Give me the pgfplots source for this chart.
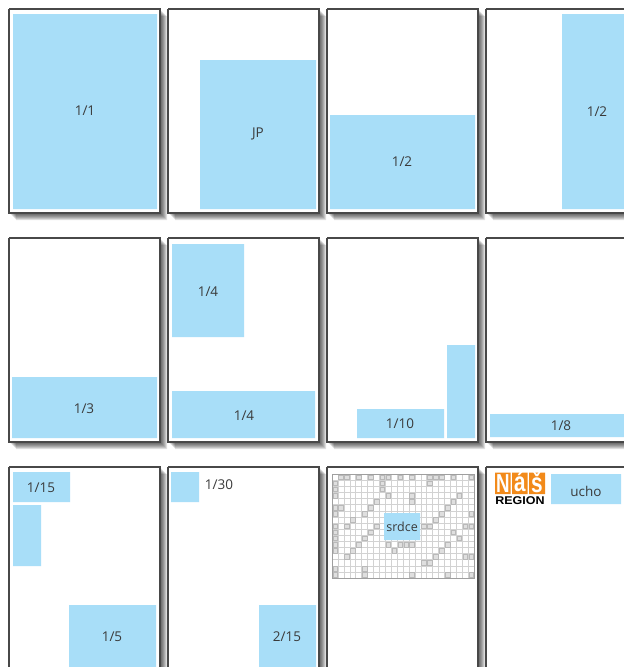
\documentclass[border=0pt]{standalone}
\usepackage{pgfplots}
\pgfplotsset{compat=1.18}
\usepackage{fontspec}
\setmainfont{Open Sans}
\newfontfamily\logofont{Liberation Sans}
\definecolor{adblue}{HTML}{A8DEF8}
\definecolor{pageedge}{HTML}{484848}
\definecolor{labeltxt}{HTML}{3A3A3A}
\definecolor{logoorange}{HTML}{F28A1A}
\tikzset{lbl/.style={font=\fontsize{13.5}{15}\selectfont, text=labeltxt}}
\newcommand{\rect}[5]{\addplot[#5, forget plot] coordinates {(#1,#2) (#3,#2) (#3,#4) (#1,#4) (#1,#2)};}
\newcommand{\shadowlayer}[3]{%
  \pgfmathsetmacro\sxa{#1+#3}\pgfmathsetmacro\sya{#2+#3}%
  \pgfmathsetmacro\sxb{#1+151+#3}\pgfmathsetmacro\syb{#2+204+#3}%
  \addplot[fill=black, fill opacity=0.12, draw=none, forget plot] coordinates {(\sxa,\sya) (\sxb,\sya) (\sxb,\syb) (\sxa,\syb) (\sxa,\sya)};}
\newcommand{\page}[2]{%
  \shadowlayer{#1}{#2}{1}\shadowlayer{#1}{#2}{2}\shadowlayer{#1}{#2}{3}%
  \shadowlayer{#1}{#2}{4}\shadowlayer{#1}{#2}{5}\shadowlayer{#1}{#2}{6}\shadowlayer{#1}{#2}{7}%
  \pgfmathsetmacro\pxb{#1+151}\pgfmathsetmacro\pyb{#2+204}%
  \addplot[fill=white, draw=pageedge, line width=1.1pt, forget plot] coordinates {(#1,#2) (\pxb,#2) (\pxb,\pyb) (#1,\pyb) (#1,#2)};}
\newcommand{\blue}[4]{\rect{#1}{#2}{#3}{#4}{fill=adblue, draw=none}}
\begin{document}
\begin{tikzpicture}
\begin{axis}[name=main, scale only axis, width=624pt, height=667pt,
  xmin=0, xmax=624, ymin=0, ymax=667, y dir=reverse, hide axis, clip=true]
% pages
\page{9}{9}\page{168}{9}\page{327}{9}\page{486}{9}
\page{9}{238}\page{168}{238}\page{327}{238}\page{486}{238}
\page{9}{467}\page{168}{467}\page{327}{467}\page{486}{467}
% row 1
\blue{13}{14}{157}{209}
\blue{200}{60}{316}{209}
\blue{330}{115}{475}{209}
\blue{562}{14}{630}{209}
% row 2
\blue{12}{377}{157}{438}
\blue{172}{244}{244}{337}
\blue{172}{391}{315}{438}
\blue{357}{409}{444}{438}
\blue{447}{345}{475}{438}
\blue{490}{414}{630}{437}
% row 3
\blue{13}{472}{70}{502}
\blue{13}{505}{41}{566}
\blue{69}{605}{156}{670}
\blue{171}{472}{199}{502}
\blue{259}{605}{316}{670}
\blue{551}{474}{621}{504}
% logo blocks
\rect{495}{472.5}{510.5}{494}{fill=logoorange, draw=none}
\rect{512}{472.5}{527.5}{494}{fill=logoorange, draw=none}
\rect{529}{472.5}{545}{494}{fill=logoorange, draw=none}
% labels
\node[lbl] at (axis cs:85,111) {1/1};
\node[lbl] at (axis cs:258,134) {JP};
\node[lbl] at (axis cs:402,162) {1/2};
\node[lbl] at (axis cs:597,112) {1/2};
\node[lbl] at (axis cs:84,409) {1/3};
\node[lbl] at (axis cs:208,292) {1/4};
\node[lbl] at (axis cs:244,416) {1/4};
\node[lbl] at (axis cs:400,424) {1/10};
\node[lbl] at (axis cs:561,426) {1/8};
\node[lbl] at (axis cs:41,488) {1/15};
\node[lbl] at (axis cs:112,637) {1/5};
\node[lbl] at (axis cs:219,485) {1/30};
\node[lbl] at (axis cs:287,637) {2/15};
\node[lbl] at (axis cs:586,491) {ucho};
\node[text=white, font=\logofont\bfseries\fontsize{26}{26}\selectfont, inner sep=0pt] at (axis cs:502.8,484) {\scalebox{0.72}[1]{N}};
\node[text=white, font=\logofont\bfseries\fontsize{26}{26}\selectfont, inner sep=0pt] at (axis cs:519.8,482) {\scalebox{0.8}[1.05]{á}};
\node[text=white, font=\logofont\bfseries\fontsize{26}{26}\selectfont, inner sep=0pt] at (axis cs:537,482) {\scalebox{0.8}[1.05]{š}};
\node[text=black, font=\logofont\bfseries\fontsize{12.5}{12.5}\selectfont, inner sep=0pt] at (axis cs:520,501) {\scalebox{1.0}[0.9]{REGION}};
\coordinate (cwsw) at (axis cs:332,578);
\end{axis}
\begin{axis}[at={(cwsw)}, anchor=south west, scale only axis, width=142pt, height=104pt,
  xmin=0, xmax=24, ymin=0, ymax=17, xtick={0,...,24}, ytick={0,...,17},
  xticklabels={}, yticklabels={}, major tick length=0pt, grid=major,
  major grid style={gray!35, line width=0.35pt}, axis line style={gray!75, line width=0.6pt},
  clip=false]
\addplot[only marks, mark=square*, mark size=2.3pt, mark options={fill=gray!25, draw=gray!55, line width=0.3pt}] coordinates {
(1.5,16.5) (2.5,16.5) (4.5,16.5) (6.5,16.5) (8.5,16.5) (9.5,16.5) (11.5,16.5) (13.5,16.5) (16.5,16.5) (17.5,16.5) (18.5,16.5) (20.5,16.5) (23.5,16.5)
(0.5,15.5) (0.5,14.5) (0.5,13.5) (0.5,11.5) (0.5,10.5) (0.5,8.5) (0.5,7.5) (0.5,6.5) (0.5,5.5) (0.5,4.5) (0.5,1.5) (0.5,0.5)
(8.5,15.5) (8.5,14.5) (9.5,13.5) (7.5,12.5) (6.5,11.5) (5.5,10.5) (3.5,9.5) (2.5,8.5) (1.5,11.5)
(13.5,13.5) (13.5,12.5) (16.5,15.5) (21.5,13.5) (20.5,12.5) (19.5,11.5) (18.5,10.5) (17.5,9.5) (23.5,10.5) (22.5,8.5) (23.5,8.5)
(7.5,8.5) (6.5,7.5) (5.5,6.5) (4.5,5.5) (3.5,4.5) (2.5,3.5)
(15.5,8.5) (16.5,8.5) (20.5,7.5) (21.5,6.5) (19.5,5.5) (18.5,4.5) (17.5,3.5) (16.5,2.5) (15.5,2.5) (11.5,5.5) (9.5,5.5) (10.5,4.5) (12.5,5.5) (13.5,5.5)
(5.5,1.5) (5.5,0.5) (13.5,0.5) (19.5,0.5) (23.5,0.5) (22.5,3.5) (23.5,3.5)
};
\addplot[fill=adblue, draw=none] coordinates {(8.8,6.2) (14.9,6.2) (14.9,10.6) (8.8,10.6) (8.8,6.2)};
\node[font=\fontsize{12.5}{14}\selectfont, text=labeltxt] at (axis cs:11.85,8.4) {srdce};
\end{axis}
\pgfresetboundingbox
\useasboundingbox (main.south west) rectangle (main.north east);
\end{tikzpicture}
\end{document}
